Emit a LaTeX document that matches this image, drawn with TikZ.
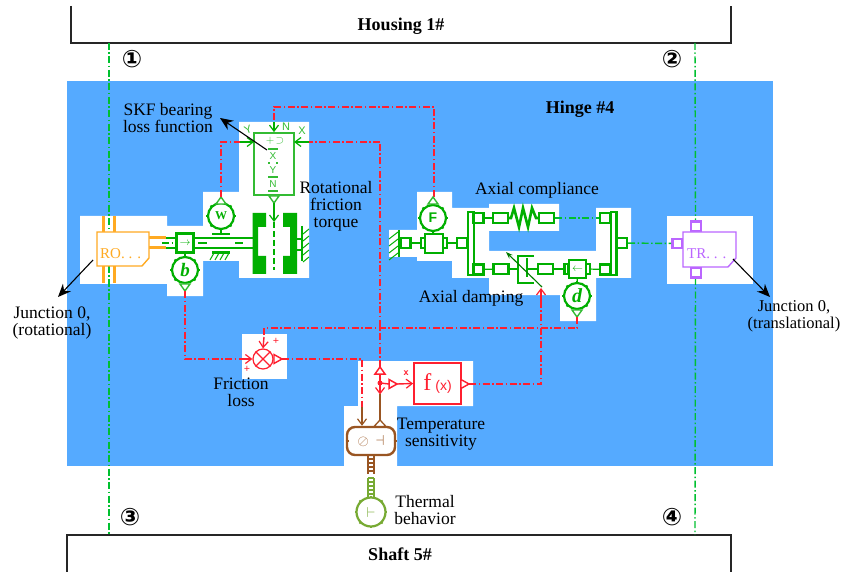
\documentclass[tikz,border=0pt]{standalone}
\usepackage{fontspec}
\setmainfont{Liberation Serif}
\newfontfamily\symfont{DejaVu Sans}
\newfontfamily\iconfont{Liberation Sans}
\usetikzlibrary{arrows.meta,calc}
\definecolor{bluebg}{HTML}{55AAFF}
\definecolor{gdark}{HTML}{00AF00}
\definecolor{glight}{HTML}{33BB33}
\definecolor{ifgreen}{HTML}{00C030}
\definecolor{sigred}{HTML}{FF1F2F}
\definecolor{orng}{HTML}{FFAA22}
\definecolor{purp}{HTML}{BB66FF}
\definecolor{brwn}{HTML}{995522}
\definecolor{olive2}{HTML}{77AA33}
\tikzset{
  x=1pt,y=-1pt,
  lbl/.style={font=\fontsize{17.5}{17}\selectfont,align=center,text=black,inner sep=0pt},
  blbl/.style={font=\bfseries\fontsize{18}{16}\selectfont,inner sep=0pt},
  numb/.style={inner sep=0pt,font=\symfont\bfseries\fontsize{24}{24}\selectfont},
  hull/.style={fill=white,draw=none},
  enc/.style={draw=black!85,line width=1.2pt},
  dd/.style={dash pattern=on 7pt off 2.5pt on 1.5pt off 2.5pt},
  intf/.style={draw=ifgreen,line width=1.4pt,dd},
  sig/.style={draw=sigred,line width=1.5pt,dd},
  sigs/.style={draw=sigred,line width=1.4pt},
  opn/.style={-{Straight Barb[length=6pt,width=9pt,line width=1.2pt]}},
  gl/.style={draw=gdark,line width=1.2pt},
  gb/.style={draw=gdark,line width=2.4pt},
  gport/.style={draw=gdark,line width=2.4pt,fill=white,inner sep=0pt,minimum width=#1,minimum height=10pt,rectangle},
  gport/.default=10pt,
  gcirc/.style={draw=gdark,line width=2.2pt,circle,fill=white,inner sep=0pt,minimum size=26pt,text=gdark},
  callout/.style={draw=black,line width=1.1pt,-{Stealth[length=13pt,width=11pt]}},
  ic/.style={inner sep=0pt,text=glight,font=\iconfont\fontsize{10}{10}\selectfont},
}
\newcommand{\bumps}[4]{\foreach \a in {0,45,...,315}{\draw[#4,line width=1.8pt] ($(#1,#2)+(\a:#3)$) -- ($(#1,#2)+(\a:#3+1.8)$);}}
\begin{document}
\begin{tikzpicture}
\useasboundingbox (0,0) rectangle (841,572);
\fill[white] (0,0) rectangle (841,572);
\fill[bluebg] (67,81) rectangle (773,466);
% white hulls
\fill[hull] (80,216)--(167,216)--(167,226)--(203,226)--(203,192)--(239,192)--(239,122)--(309,122)--(309,278)--(239,278)--(239,261)--(203,261)--(203,296)--(167,296)--(167,284)--(80,284)--cycle;
\fill[hull] (417,192)--(452,192)--(452,208)--(489,208)--(489,204)--(559,204)--(559,231)--(489,231)--(489,251)--(596,251)--(596,208)--(631,208)--(631,278)--(596,278)--(596,321)--(560,321)--(560,295)--(489,295)--(489,278)--(452,278)--(452,261)--(417,261)--(417,257)--(389,257)--(389,230)--(417,230)--cycle;
\fill[hull] (667,216) rectangle (753,284);
\fill[hull] (242,334) rectangle (287,379);
\fill[hull] (358,361)--(473,361)--(473,406)--(397,406)--(397,466)--(344,466)--(344,406)--(358,406)--cycle;
% housing and shaft
\draw[enc] (71,6) -- (71,43) -- (731,43) -- (731,6);
\draw[enc] (67,572) -- (67,535) -- (731,535) -- (731,572);
\node[blbl] (housing) at (401,26) {Housing 1\#};
\node[blbl] (shaft) at (400,554) {Shaft 5\#};
\node[blbl] (hinge) at (580,109) {Hinge \#4};
\node[numb] (n1) at (132,59) {①};
\node[numb] (n2) at (672,59) {②};
\node[numb] (n3) at (130,517) {③};
\node[numb] (n4) at (672,517) {④};
% interface lines
\coordinate (hl) at (109,43); \coordinate (sl) at (109,535);
\coordinate (hr) at (695,43); \coordinate (sr) at (695,535);
\coordinate (rot) at (109,232); \coordinate (rob) at (109,266);
\coordinate (trt) at (695.5,221); \coordinate (trb) at (695.5,278);
\draw[intf] (hl) -- (rot); \draw[intf] (rob) -- (sl);
\draw[intf] (hr) -- (trt); \draw[intf] (trb) -- (sr);
% RO junction
\draw[orng,line width=3pt] (103,216)--(103,232) (114.5,216)--(114.5,232) (103,266)--(103,283) (114.5,266)--(114.5,283) (149,238)--(166,238) (149,248)--(166,248);
\draw[orng,line width=1.4pt,fill=white] (97,232)--(149,232)--(149,258)--(142,266)--(97,266)--cycle;
\node[inner sep=0pt,text=orng,font=\fontsize{15}{15}\selectfont,anchor=west] (ro) at (100,254) {RO. . .};
\coordinate (roe) at (149,243);
% TR junction
\node[draw=purp,line width=2.6pt,fill=white,minimum width=10pt,minimum height=10pt,inner sep=0pt] (tp1) at (696,226.5) {};
\node[draw=purp,line width=2.6pt,fill=white,minimum width=10pt,minimum height=10pt,inner sep=0pt] (tp2) at (696,272.5) {};
\node[draw=purp,line width=2.6pt,fill=white,minimum width=10pt,minimum height=9pt,inner sep=0pt] (tp3) at (677.5,243.5) {};
\draw[purp,line width=1.4pt,fill=white] (683,232)--(736,232)--(736,258)--(728,267)--(683,267)--cycle;
\node[inner sep=0pt,text=purp,font=\fontsize{15}{15}\selectfont,anchor=west] (tr) at (687,254) {TR. . .};
% left mechanical chain
\draw[gdark,line width=1.2pt,dd] (roe) ++(13,0) -- ++(14,0);
\draw[gb] (166,238)--(176,238) (166,248)--(176,248);
\node[draw=gdark,line width=2.4pt,fill=white,minimum width=17pt,minimum height=19pt,inner sep=0pt,text=gdark,font=\fontsize{11}{11}\selectfont] (jb) at (185,243) {$\rightarrow$};
\draw[gb] (194,238)--(253,238) (194,248)--(253,248);
\draw[gdark,line width=1.2pt] (198,243)--(207,243) (235,243)--(243,243);
% friction clutch plates
\fill[gdark] (252.5,213)--(266,213)--(266,227)--(258,227)--(258,256)--(266,256)--(266,274)--(252.5,274)--cycle;
\fill[gdark] (283,213)--(297,213)--(297,274)--(283,274)--(283,256)--(290,256)--(290,227)--(283,227)--cycle;
\coordinate (plate) at (274,222);
\draw[gb] (297,239)--(302,239) (297,250)--(302,250);
\draw[draw=gdark,line width=2.4pt] (302,226)--(302,261);
\foreach \y in {229,236,...,257}{\draw[gdark,line width=1pt] (303,\y+5)--(309,\y);}
% W sensor
\node[gcirc,font=\bfseries\fontsize{12}{12}\selectfont] (W) at (221,216) {W};
\bumps{221}{216}{13}{gdark}
\draw[gb] (212,234)--(230,234);
\draw[gl] (W) -- (221,234);
\draw[gb] (212,252.5)--(230,252.5);
\foreach \x in {214,219,...,229}{\draw[gdark,line width=1pt] (\x,253)--(\x-4,260);}
\coordinate (wtri) at (221,197);
\draw[glight,line width=1.4pt,fill=white] (216,204)--(226,204)--(221,197)--cycle;
% b sensor
\node[gcirc,font=\bfseries\itshape\fontsize{19}{19}\selectfont] (b) at (185,270) {b};
\bumps{185}{270}{13}{gdark}
\draw[gl] (jb) -- (b);
\draw[glight,line width=1.4pt,fill=white] (180,284)--(190,284)--(185,291)--cycle;
\coordinate (bout) at (185,291);
% SKF bearing box
\node[draw=glight,line width=1.7pt,minimum width=40pt,minimum height=62pt,inner sep=0pt,fill=white] (skf) at (274,164) {};
\node[ic,font=\iconfont\bfseries\fontsize{11}{11}\selectfont] (skf1) at (275,140.5) {$\mathbf{+}\!\supset$};
\node[ic] (skfx) at (273,156) {X};
\node[ic] (skfy) at (273,170) {Y};
\node[ic] (skfn) at (273,184) {N};
\draw[glight,line width=1.1pt] (268,149)--(278,149) (268,163)--(270,163) (276,163)--(278,163) (268,177)--(278,177) (268,191)--(278,191);
\node[ic,font=\iconfont\fontsize{11}{11}\selectfont,rotate=20] (ly) at (248,130) {Y};
\node[ic,font=\iconfont\fontsize{11}{11}\selectfont] (ln) at (286,127) {N};
\node[ic,font=\iconfont\fontsize{11}{11}\selectfont] (lx) at (302,131) {X};
\draw[glight,line width=1.4pt,fill=white] (269,196)--(279,196)--(274,203)--cycle;
\draw[gdark,line width=1.2pt,opn] (274,203) -- (plate);
\draw[gdark,line width=1.4pt,dash pattern=on 6pt off 3pt] (plate) -- (274,270);
% signals into SKF
\coordinate (wtop) at (221,142); \coordinate (rtop) at (380,142);
\coordinate (sk1) at (254,142); \coordinate (sk2) at (294,142);
\coordinate (tt) at (274,107); \coordinate (rc) at (434,107);
\draw[sig] (wtri) -- (wtop) -- (240,142);
\draw[gdark,line width=1.2pt,opn] (240,142) -- (sk1);
\draw[gdark,line width=1.2pt,opn] (309,142) -- (sk2);
\draw[sig] (rtop) -- (309,142);
\draw[sig] (434,197) -- (rc) -- (tt) -- (274,122);
\draw[gdark,line width=1.2pt,opn] (274,122) -- (skf.north);
% right chain
\draw[draw=gdark,line width=2.4pt] (399,230)--(399,257);
\foreach \y in {232,239,...,253}{\draw[gdark,line width=1pt] (398,\y)--(389,\y+7);}
\node[gport,minimum width=10pt] (r1) at (405.5,243) {};
\node[gport=4pt] (fl1) at (423,243) {};
\node[gport=4pt] (fl2) at (445,243) {};
\node[draw=gdark,line width=2.4pt,fill=white,minimum width=18pt,minimum height=19pt,inner sep=0pt] (mass) at (434,243.5) {};
\node[gport] (r2) at (462,243) {};
\draw[gl] (r1) -- (fl1); \draw[gl] (fl2) -- (r2);
\draw[draw=gdark,line width=2.4pt] (468,212)--(468,275) (474,212)--(474,275) (467,212)--(475,212) (467,275)--(475,275);
\node[gport] (a1) at (478.5,218) {};
\node[gport=15pt] (a2) at (500.5,218) {};
\node[gport=15pt] (a3) at (546.5,218) {};
\node[gport] (a4) at (605,218) {};
\draw[draw=gdark,line width=2.4pt] (611,212)--(611,275) (616.5,212)--(616.5,275) (610,212)--(617.5,212) (610,275)--(617.5,275);
\node[gport] (a5) at (622,243) {};
\draw[gl] (a1) -- (a2);
\draw[draw=gdark,line width=2.6pt] (a2.east) -- (511,218) -- (514,208) -- (519,227) -- (523,208) -- (528,227) -- (532,208) -- (536,218) -- (a3.west);
\draw[intf] (a3) -- (a4);
\draw[intf] (a5) -- (tp3);
\node[gport] (d1) at (478.5,269.5) {};
\node[gport=15pt] (d2) at (501,269) {};
\node[gport=15pt] (d3) at (545.5,269) {};
\node[gport=4pt] (fl3) at (566.5,269) {};
\node[gport=4pt] (fl4) at (588,269) {};
\node[draw=gdark,line width=2.4pt,fill=white,minimum width=17pt,minimum height=18pt,inner sep=0pt,text=gdark,font=\fontsize{11}{11}\selectfont] (vel) at (577.5,269) {$\leftarrow$};
\node[gport] (d4) at (605,269.5) {};
\draw[gl] (d1) -- (d2); \draw[gl] (d3) -- (fl3); \draw[gl] (fl4) -- (d4);
% damper
\draw[draw=gdark,line width=2.4pt] (534,256)--(518,256)--(518,283)--(534,283);
\draw[draw=gdark,line width=2.4pt] (527,258)--(527,277) (527,269)--(538,269);
\draw[gl] (d2) -- (518,269);
% sensors F, d
\node[gcirc,font=\iconfont\bfseries\fontsize{14}{14}\selectfont] (F) at (433,218) {F};
\bumps{433}{218}{13}{gdark}
\draw[gl] (F) -- (mass);
\draw[glight,line width=1.4pt,fill=white] (428,204)--(438,204)--(433,197)--cycle;
\node[gcirc,font=\bfseries\itshape\fontsize{20}{20}\selectfont] (d) at (577,296) {d};
\bumps{577}{296}{13}{gdark}
\draw[gl] (vel) -- (d);
\draw[glight,line width=1.4pt,fill=white] (572,310)--(582,310)--(577,317)--cycle;
\coordinate (dout) at (577,317);
% damping control arrow
\coordinate (dmpA) at (542,287); \coordinate (dmpB) at (506,252);
\draw[draw=gdark!70!black,line width=1.1pt,-{Stealth[length=7pt,width=5pt]}] (dmpA) -- (dmpB);
% temperature / signal block
\node[draw=sigred,line width=1.7pt,minimum width=47pt,minimum height=41pt,inner sep=0pt,fill=white,text=sigred,font=\fontsize{24}{24}\selectfont] (fx) at (437.5,383.5) {f\,{\iconfont\fontsize{14}{14}\selectfont(x)}};
\node[inner sep=0pt,text=sigred,font=\iconfont\bfseries\fontsize{9}{9}\selectfont] (fxl) at (406,373) {x};
\node[draw=sigred,line width=1.2pt,circle,minimum size=20pt,inner sep=0pt,fill=white] (sum) at (263,359) {};
\draw[sigred,line width=1.2pt] (sum.north west)--(sum.south east) (sum.north east)--(sum.south west);
\node[inner sep=0pt,text=sigred,font=\bfseries\fontsize{11}{11}\selectfont] (p1) at (276,341) {+};
\node[inner sep=0pt,text=sigred,font=\bfseries\fontsize{11}{11}\selectfont] (p2) at (247,369) {+};
\draw[sigred,line width=1.4pt,fill=white] (274,354.5)--(274,363.5)--(282,359)--cycle;
\coordinate (sumo) at (282,359);
\coordinate (sl1) at (243,359);
\draw[sig] (bout) -- (185,359) -- (sl1);
\draw[sigs,opn] (sl1) -- (sum.west);
\draw[sig] (dout) -- (577,328) -- (264,328) -- (264,337);
\draw[sigs,opn] (264,337) -- (sum.north);
% junction and branches
\coordinate (jc) at (380,383);
\draw[sig] (380,367) -- (rtop);
\draw[sigs] (jc) -- (380,374);
\draw[sigs] (jc) -- (389,384);
\draw[sigred,line width=1.5pt,fill=white] (375,374)--(385,374)--(380,367)--cycle;
\fill[sigred] (jc) circle (2.5);
\draw[sigred,line width=1.5pt,fill=white] (389,379.5)--(389,388.5)--(397,384)--cycle;
\draw[sigs,opn] (397,384) -- (fx.west);
\draw[sigred,line width=1.4pt,fill=white] (461,379.5)--(461,388.5)--(469,384)--cycle;
\coordinate (fxo) at (469,384);
\draw[sig] (fxo) -- (541,384) -- (541,302);
\draw[sigs,opn] (541,302) -- (541,288);
\draw[sig] (sumo) -- (362,359) -- (362,407);
% thermal block
\node[draw=brwn,line width=2.4pt,rounded corners=8pt,minimum width=48pt,minimum height=28pt,inner sep=0pt,fill=white,text=brwn,font=\fontsize{14}{14}\selectfont] (th) at (371,441) {$\oslash$\ \ $\dashv$};
\draw[brwn,line width=1.2pt,opn] (362,407) -- (th.north -| 362,0);
\draw[brwn,line width=1.3pt,fill=white] (374,426.5)--(386,426.5)--(380,420)--cycle;
\draw[sigs,opn] (jc) -- (380,394.5);
\draw[brwn,line width=1.2pt] (380,394)--(380,420);
\foreach \a/\b in {347/441,395/441}{\draw[brwn,line width=1.8pt] (\a-1.5,\b)--(\a+1.5,\b);}
% thermal bond
\node[draw=olive2,line width=2.2pt,circle,minimum size=29pt,inner sep=0pt,fill=white,text=olive2,font=\bfseries\fontsize{15}{15}\selectfont] (T) at (371,512) {$\vdash$};
\bumps{371}{512}{14.5}{olive2}
\coordinate (lad) at (371,475);
\draw[brwn,line width=1.2pt] (368,455)--(368,474) (374,455)--(374,474);
\foreach \y in {459,463,...,473}{\draw[brwn,line width=1.2pt] (368,\y)--(374,\y);}
\draw[olive2,line width=1.2pt] (368,478)--(368,497) (374,478)--(374,497);
\foreach \y in {478,482,...,496}{\draw[olive2,line width=1.2pt] (368,\y)--(374,\y);}
% callouts
\coordinate (cs) at (267,150); \coordinate (cse) at (220,118);
\coordinate (cr) at (93,260); \coordinate (cre) at (58,297);
\coordinate (ct) at (733,259); \coordinate (cte) at (770,297);
\draw[callout] (cs) -- (cse);
\draw[callout] (cr) -- (cre);
\draw[callout] (ct) -- (cte);
% labels
\node[lbl] (t1) at (168,118) {SKF bearing\\loss function};
\node[lbl] (t2) at (336,206) {Rotational\\friction\\torque};
\node[lbl] (t3) at (537,190) {Axial compliance};
\node[lbl] (t4) at (471,298) {Axial damping};
\node[lbl] (t5) at (241,392) {Friction\\loss};
\node[lbl] (t6) at (441,434) {Temperature\\sensitivity};
\node[lbl] (t7) at (425,510) {Thermal\\behavior};
\node[lbl] (t8) at (52,323) {Junction 0,\\(rotational)};
\node[lbl,font=\fontsize{16.5}{17}\selectfont] (t9) at (794,316) {Junction 0,\\(translational)};
\end{tikzpicture}
\end{document}
